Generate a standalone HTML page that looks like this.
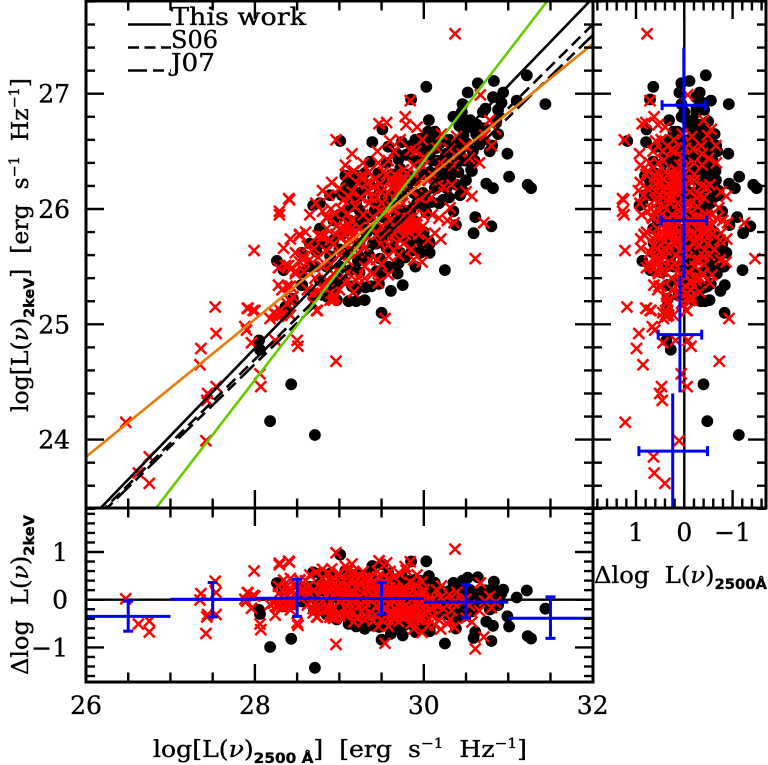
<!DOCTYPE html>
<html>
<head>
<meta charset="utf-8">
<title>L2keV vs L2500 chart</title>
<style>
html,body{margin:0;padding:0;background:#fff;width:768px;height:765px;overflow:hidden}
svg{display:block}
text{font-family:"DejaVu Serif","Liberation Serif",serif;fill:#000;stroke:#000;stroke-width:0.35}
.sub{font-family:"DejaVu Sans","Liberation Sans",sans-serif;font-weight:bold}
</style>
</head>
<body>
<svg id="chart" width="768" height="765" viewBox="0 0 768 765" xmlns="http://www.w3.org/2000/svg">
<defs>
<clipPath id="clip-main"><rect x="86" y="1" width="507" height="507"/></clipPath>
<clipPath id="clip-res"><rect x="86" y="508" width="507" height="174"/></clipPath>
<clipPath id="clip-side"><rect x="593" y="1" width="173" height="507"/></clipPath>
</defs>
<g id="marks-main" clip-path="url(#clip-main)"></g>
<g id="marks-res" clip-path="url(#clip-res)"></g>
<g id="marks-side" clip-path="url(#clip-side)"></g>
<g id="axes"></g>
<g id="tick-labels"></g>

<g>
<line x1="128" x2="171" y1="24.5" y2="24.5" stroke="#000" stroke-width="2.4"/>
<line x1="128" x2="171" y1="47.5" y2="47.5" stroke="#000" stroke-width="2.4" stroke-dasharray="11 5.5"/>
<line x1="128" x2="171" y1="70.5" y2="70.5" stroke="#000" stroke-width="2.4" stroke-dasharray="19 6 11 6"/>
<text x="171" y="25" font-size="24" textLength="135" lengthAdjust="spacingAndGlyphs">This work</text>
<text x="171" y="48" font-size="24" textLength="47" lengthAdjust="spacingAndGlyphs">S06</text>
<text x="171" y="71" font-size="24" textLength="44" lengthAdjust="spacingAndGlyphs">J07</text>
</g>

<text x="153" y="757" font-size="23" textLength="374" lengthAdjust="spacingAndGlyphs">log[L(<tspan font-style="italic">ν</tspan>)<tspan class="sub" font-size="14" dy="6">2500 Å</tspan><tspan dy="-6">]&#160;&#160;[erg&#160;&#160;s</tspan><tspan font-size="14" dy="-9">−1</tspan><tspan dy="9">&#160;&#160;Hz</tspan><tspan font-size="14" dy="-9">−1</tspan><tspan dy="9">]</tspan></text>
<text transform="translate(28,412) rotate(-90)" x="0" y="0" font-size="23" textLength="334" lengthAdjust="spacingAndGlyphs">log[L(<tspan font-style="italic">ν</tspan>)<tspan class="sub" font-size="14" dy="6">2keV</tspan><tspan dy="-6">]&#160;&#160;[erg&#160;&#160;s</tspan><tspan font-size="14" dy="-9">−1</tspan><tspan dy="9">&#160;&#160;Hz</tspan><tspan font-size="14" dy="-9">−1</tspan><tspan dy="9">]</tspan></text>
<text transform="translate(28,675) rotate(-90)" x="0" y="0" font-size="23" textLength="160" lengthAdjust="spacingAndGlyphs">Δlog&#160;&#160;L(<tspan font-style="italic">ν</tspan>)<tspan class="sub" font-size="14" dy="6">2keV</tspan></text>
<text x="594" y="583" font-size="23" textLength="173" lengthAdjust="spacingAndGlyphs">Δlog&#160;&#160;L(<tspan font-style="italic">ν</tspan>)<tspan class="sub" font-size="14" dy="6">2500Å</tspan></text>

<script>
// ---- data (log L2500, log L2keV) ----
const blackUV = [30.03,29.85,30.64,30.83,31.22,30.52,30.82,30.94,30.92,31.10,31.44,30.46,30.73,30.88,30.45,30.70,30.35,30.43,30.55,30.06,
30.63,30.55,30.86,30.88,29.51,29.39,29.01,29.74,29.58,30.81,30.66,30.99,30.56,31.01,30.74,30.82,31.23,31.27,30.46,30.43,
30.61,30.80,30.59,30.38,30.35,30.03,30.09,30.25,30.07,29.96,29.86,30.06,29.65,29.69,29.75,29.61,29.47,29.38,29.31,29.30,
29.20,29.11,29.50,28.56,28.73,28.55,29.07,29.13,28.69,28.77,29.03,29.13,29.25,29.36,29.70,29.90,28.26,28.34,28.55,28.45,
28.36,28.33,28.05,28.06,28.43,28.18,28.71,28.87,28.97,29.90,30.03,30.15,30.27,30.39,30.47,30.41,30.57,29.24,29.36,29.48,
29.44,29.60,29.74,29.88,29.99,30.15,30.31,30.23,30.07,29.95,30.15,30.29,30.43,30.03,29.79,29.68,29.56,29.46,29.30,29.36,
29.52,29.68,29.84,29.92,29.80,29.96,29.72,29.58,29.44,29.32,29.40,29.56,29.72,29.84,30.07,28.77,28.65,28.93,29.05,29.20,
28.93,29.13,29.24,29.42,29.32,29.13,29.05,29.24,28.93,28.85,28.97,29.44,29.32,29.48,28.77,29.01,28.89,28.77,29.24,29.44,
29.64,29.70,29.24,28.89,29.20,29.96,30.05,30.13,29.92,30.09,30.19,30.27,30.51,30.63,30.47,30.39,30.53,30.72,30.19,30.33,
30.39,30.27,30.13,30.23,30.01,
29.15,29.08,29.30,29.40,29.55,29.65,29.80,29.90,30.00,30.10,29.62,29.72,29.82,29.50,29.20,29.28,29.12,29.00,29.60,29.50,
29.66,29.76,29.90,29.98,29.88,30.00,30.18,30.12,30.22,30.38,30.48,30.58,30.70,30.78,30.60,30.62,30.42,30.30,30.12,29.98,
29.85,29.70,29.35,29.22,29.10,29.00,28.85,28.98,29.15,29.50,29.58,29.78,29.90,28.70,28.85,28.65,28.55,28.70,29.20,29.65,
29.75,29.50,30.00,30.30,30.50];
const blackX = [27.06,26.95,27.09,27.11,27.16,27.01,26.97,27.01,26.92,26.94,26.91,26.91,26.87,26.86,26.84,26.84,26.80,26.77,26.77,26.77,
26.73,26.71,26.76,26.65,26.69,26.58,26.59,26.58,26.54,26.55,26.56,26.48,26.34,26.28,26.22,26.18,26.21,26.18,26.16,26.12,
25.93,25.85,25.79,25.86,25.98,25.97,26.06,25.47,25.62,25.62,25.64,25.72,25.49,25.44,25.34,25.29,25.35,25.33,25.32,25.21,
25.20,25.20,25.10,25.34,25.63,25.62,26.29,26.25,26.03,26.05,26.12,26.12,26.12,26.41,26.43,26.42,25.55,25.47,25.34,25.22,
25.15,25.10,24.86,24.78,24.48,24.16,24.04,25.24,25.34,26.60,26.57,26.53,26.48,26.50,26.54,26.32,26.33,26.25,26.21,26.16,
26.03,26.06,26.12,26.14,26.14,26.18,26.27,26.31,26.32,26.40,26.42,26.41,26.42,26.48,26.47,26.48,26.40,26.31,26.31,25.93,
25.93,25.96,25.99,26.05,25.88,25.82,25.76,25.80,25.82,25.79,25.70,25.66,25.62,25.73,25.70,25.83,25.50,25.73,25.79,25.88,
25.90,26.02,25.99,25.99,25.82,25.47,25.38,25.45,25.30,25.24,25.21,25.46,25.57,25.57,25.38,25.50,25.59,25.70,25.70,25.70,
25.67,25.53,26.14,26.12,26.29,26.61,26.67,26.67,26.54,26.51,26.57,26.45,26.57,26.64,26.64,26.56,26.73,26.70,26.34,26.31,
26.21,26.18,26.18,26.08,26.11,
26.20,26.20,26.18,26.10,26.10,26.15,26.20,26.25,26.30,26.42,26.30,26.35,26.30,26.25,26.05,25.92,25.90,25.95,25.85,25.75,
25.75,25.80,25.75,25.70,25.90,26.03,26.05,26.25,26.22,26.35,26.42,26.50,26.60,26.50,26.42,26.65,26.72,26.60,26.60,26.50,
26.55,26.25,25.60,25.55,25.62,25.65,25.50,25.40,25.33,25.45,25.50,25.58,25.50,25.50,25.70,25.70,25.45,25.25,25.30,25.90,
25.98,26.00,25.80,26.10,26.25];

const redUV = [30.37,30.67,29.84,29.47,29.56,29.78,29.79,29.92,28.96,29.15,29.07,29.60,29.98,30.21,30.39,30.78,30.85,30.72,30.54,30.15,
29.84,29.28,29.17,29.46,29.58,29.76,29.88,29.99,28.91,28.87,29.05,28.72,28.65,28.95,28.85,28.53,28.75,29.01,29.13,29.19,
29.28,29.32,29.40,29.48,29.34,29.58,29.70,29.66,29.72,29.80,29.52,30.09,30.23,30.33,30.57,30.31,30.36,30.71,30.61,30.13,
30.20,30.05,29.99,29.88,29.98,29.84,29.80,29.88,29.76,29.72,29.60,29.64,29.50,29.48,29.58,29.58,29.76,29.64,29.36,29.27,
29.15,29.05,28.89,28.81,28.93,28.65,28.57,28.71,28.93,29.22,29.40,29.58,29.07,29.17,28.93,28.73,28.69,29.54,27.99,28.29,
28.29,28.41,28.53,28.42,28.34,28.48,28.57,28.36,28.44,28.28,28.42,28.32,28.45,28.48,28.38,28.30,28.22,28.18,28.28,27.92,
28.00,27.88,28.74,28.95,29.20,29.09,28.85,28.89,28.85,28.95,28.85,29.01,28.79,26.47,26.75,26.62,26.75,27.42,27.35,27.36,
27.53,27.54,27.44,27.54,27.43,27.90,27.91,27.98,27.96,28.06,28.07,28.24,28.50,28.51,28.96,28.26,28.32,28.42,28.28,28.40,
28.48,28.38,28.42,28.75,28.69,28.89,28.93,28.87,28.53,28.40,29.67,29.62,29.72,29.77,29.60,29.84,29.80,29.87,29.78,29.92,
29.83,29.10,29.16,29.12,29.18,29.02,29.08,28.98,29.45,29.35,29.50,29.62,29.55,29.40,29.25,29.15,29.00,28.80,29.10,29.30,
29.44,29.70,29.85,30.00,30.10,29.95,29.85,29.75,30.05,30.20,30.35,30.45,29.65,29.45,29.25,29.35,29.95,29.30,29.10,28.90,
28.75,28.60,
29.68,29.64,29.70,29.74,29.66,29.56,29.50,29.42,29.38,29.30,29.22,29.10,29.12,29.02,28.90,28.80,
29.82,29.86,29.90,29.78,29.94,29.74,29.68,29.62,29.54,29.44,29.38,29.30,29.24,
29.14,29.06,28.96,29.14,29.22,29.12,29.00,28.84,28.80,28.70,28.62,28.58,28.62,28.82,29.00,29.10,29.30,29.50,29.46,
29.90,30.00,30.10,30.16,30.02,29.88,29.68,29.48,29.90,29.72,30.50,30.28,30.18,30.50,30.66,30.80,30.30];
const redX = [27.52,26.99,26.94,26.74,26.75,26.80,26.73,26.71,26.60,26.48,26.38,26.59,26.60,26.65,26.63,26.77,26.69,26.64,26.44,26.53,
26.51,26.40,26.33,26.40,26.42,26.34,26.38,26.37,26.23,26.12,26.08,26.05,25.95,25.96,25.92,25.77,25.77,25.82,25.82,26.02,
25.95,26.22,26.19,26.22,26.16,26.14,26.22,26.21,26.25,26.31,26.32,26.10,26.19,26.21,26.11,26.01,25.88,25.88,25.57,25.79,
25.74,25.73,25.85,25.56,25.54,25.85,25.82,25.88,25.93,25.73,25.90,25.99,25.85,25.70,25.69,25.59,25.70,25.64,25.56,25.70,
25.83,25.79,25.73,25.76,25.69,25.56,25.59,25.40,25.44,25.41,25.44,25.43,25.36,25.28,25.23,25.12,25.27,25.05,25.64,25.98,
25.95,26.08,25.78,25.74,25.66,25.62,25.56,25.51,25.49,25.34,25.33,25.30,25.24,25.44,25.18,25.12,25.10,25.05,25.07,25.14,
25.12,24.98,25.12,25.24,25.38,25.38,25.38,25.21,25.93,25.96,25.83,25.83,25.76,24.15,23.85,23.71,23.62,23.99,24.65,24.79,
25.15,24.92,24.40,24.46,24.34,24.95,25.14,25.12,24.84,24.57,24.46,24.86,24.86,24.81,24.68,25.08,25.08,25.08,25.49,25.51,
25.46,25.33,25.20,25.28,25.18,25.27,25.21,25.37,25.54,26.09,26.24,26.18,26.20,26.27,26.25,25.88,25.90,25.84,25.86,25.86,
25.80,25.80,25.77,25.86,25.74,25.76,25.70,25.86,26.10,26.05,26.05,26.02,25.96,25.93,26.10,26.15,26.18,26.16,25.96,25.66,
25.56,25.60,25.65,25.95,25.95,26.10,26.15,26.05,26.25,26.40,26.38,26.48,26.50,26.50,26.28,26.32,26.25,25.50,25.55,25.52,
25.58,25.80,
26.28,26.20,26.16,26.24,26.30,26.30,26.15,26.26,26.10,26.28,26.22,26.30,26.10,26.00,26.00,25.98,
25.92,25.92,25.82,25.78,25.78,25.84,25.82,25.76,25.78,25.78,25.84,25.78,25.84,
25.90,25.84,25.78,25.72,25.62,25.64,25.60,25.64,25.50,25.66,25.68,25.46,25.30,25.30,25.30,25.45,25.40,25.52,25.36,
26.30,26.45,26.30,26.20,26.12,26.02,26.05,25.98,26.50,26.60,26.15,25.90,25.92,26.55,26.40,26.55,26.52];

// fit lines: slope and reference point (log L2500, log L2keV)
const fitNames = ['this-work','s06','j07','orange-fit','green-fit'];
const fitSlopes = [0.759,0.726,0.713,0.597,0.949];
const fitRefX = [26.174,26.225,26.249,26,26.83];
const fitRefY = [23.407,23.407,23.407,23.85,23.407];

// inverse fit used by the side panel: L2500 = a + b (L2keV - c)
const invSlope = 1.0235, invRefX = 27.53, invRefY = 23.99;

// binned means, residual panel
const resBinCenters = [26.5,27.5,28.5,29.5,30.5,31.5];
const resBinMeans = [-0.35,0.01,0.03,0.025,-0.05,-0.39];
const resBinTop = [-0.03,0.36,0.43,0.36,0.31,0.06];
const resBinBottom = [-0.66,-0.36,-0.35,-0.31,-0.38,-0.81];

// binned means, side panel
const sideBinCenters = [23.90,24.91,25.90,26.90];
const sideBinHalf = [0.50,0.50,0.50,0.50];
const sideBinMeans = [0.24,0.09,0.01,0.01];
const sideBinHigh = [0.94,0.54,0.48,0.46];
const sideBinLow = [-0.48,-0.36,-0.46,-0.43];

const xTickLabels = [26,28,30,32];
const yTickLabels = [24,25,26,27];
const resTickLabels = [1,0,-1];
const sideTickLabels = [1,0,-1];

// ---- axis functions ----
const sx = v => 86 + (v - 26) * 84.45;
const sy = v => 209 - (v - 26) * 115.3;
const ry = v => 599.7 - v * 47.7;
const dx = v => 684.3 - v * 48.3;
const NS = 'http://www.w3.org/2000/svg';
const gMain = document.getElementById('marks-main');
const gRes = document.getElementById('marks-res');
const gSide = document.getElementById('marks-side');
const gAxes = document.getElementById('axes');
const gLab = document.getElementById('tick-labels');

function mk(tag, attrs, parent) {
  const e = document.createElementNS(NS, tag);
  for (const k in attrs) e.setAttribute(k, attrs[k]);
  parent.appendChild(e);
  return e;
}
function dot(px, py, parent) {
  const c = mk('circle', {cx: px.toFixed(1), cy: py.toFixed(1), r: 5.9, fill: '#000'}, parent);
  
  
}
function cross(px, py, parent) {
  const s = 5.5;
  const p = mk('path', {d: `M${(px-s).toFixed(1)} ${(py-s).toFixed(1)}L${(px+s).toFixed(1)} ${(py+s).toFixed(1)}M${(px-s).toFixed(1)} ${(py+s).toFixed(1)}L${(px+s).toFixed(1)} ${(py-s).toFixed(1)}`, stroke: '#f00', 'stroke-width': 2.5, fill: 'none'}, parent);
  
  
}
const orangeAt = x => fitRefY[3] + fitSlopes[3] * (x - fitRefX[3]);
const invAt = y => invRefX + invSlope * (y - invRefY);

// zero lines under the points
const zeroRes = mk('line', {x1: 86, x2: 593, y1: ry(0), y2: ry(0), stroke: '#000', 'stroke-width': 2.4}, gRes);


const zeroSide = mk('line', {x1: dx(0), x2: dx(0), y1: 1, y2: 508, stroke: '#000', 'stroke-width': 2.4}, gSide);



// points in all panels
blackUV.forEach((x, i) => {
  const y = blackX[i];
  dot(sx(x), sy(y), gMain);
  dot(sx(x), ry(y - orangeAt(x)), gRes);
  dot(dx(invAt(y) - x), sy(y), gSide);
});
redUV.forEach((x, i) => {
  const y = redX[i];
  cross(sx(x), sy(y), gMain);
  cross(sx(x), ry(y - orangeAt(x)), gRes);
  cross(dx(invAt(y) - x), sy(y), gSide);
});

// fit lines
const fitStyles = [
  {stroke: '#000', dash: ''},
  {stroke: '#000', dash: '12 6'},
  {stroke: '#000', dash: '20 6 11 6'},
  {stroke: '#e87b0c', dash: ''},
  {stroke: '#66cc00', dash: ''}
];
fitNames.forEach((n, i) => {
  const y0 = fitRefY[i] + fitSlopes[i] * (26 - fitRefX[i]);
  const y1 = fitRefY[i] + fitSlopes[i] * (32 - fitRefX[i]);
  const l = mk('line', {x1: sx(26), y1: sy(y0), x2: sx(32), y2: sy(y1), stroke: fitStyles[i].stroke, 'stroke-width': 2.6}, gMain);
  if (fitStyles[i].dash) l.setAttribute('stroke-dasharray', fitStyles[i].dash);
  
  
});

// blue binned bars
const BLUE = '#0000ff';
function bar(x1, y1, x2, y2, parent) {
  const l = mk('line', {x1, y1, x2, y2, stroke: BLUE, 'stroke-width': 3}, parent);
  
  
}
resBinCenters.forEach((c, i) => {
  const X = sx(c);
  bar(sx(c - 0.5), ry(resBinMeans[i]), sx(c + 0.5), ry(resBinMeans[i]), gRes);
  bar(X, ry(resBinTop[i]), X, ry(resBinBottom[i]), gRes);
  bar(X - 5, ry(resBinTop[i]), X + 5, ry(resBinTop[i]), gRes);
  bar(X - 5, ry(resBinBottom[i]), X + 5, ry(resBinBottom[i]), gRes);
});
sideBinCenters.forEach((c, i) => {
  const Y = sy(c);
  const X = dx(sideBinMeans[i]);
  bar(X, sy(c + sideBinHalf[i]), X, sy(c - sideBinHalf[i]), gSide);
  bar(dx(sideBinHigh[i]), Y, dx(sideBinLow[i]), Y, gSide);
  bar(dx(sideBinHigh[i]), Y - 5, dx(sideBinHigh[i]), Y + 5, gSide);
  bar(dx(sideBinLow[i]), Y - 5, dx(sideBinLow[i]), Y + 5, gSide);
});

// axes
function tick(x1, y1, x2, y2) {
  const t = mk('line', {x1, y1, x2, y2, stroke: '#000', 'stroke-width': 2.4}, gAxes);
  
  
}
function frame(x, y, w, h) {
  const r = mk('rect', {x, y, width: w, height: h, fill: 'none', stroke: '#000', 'stroke-width': 3}, gAxes);
  
  
}
frame(86, 1, 507, 507);
frame(86, 508, 507, 174);
frame(593, 1, 173, 507);

// x ticks on main and residual panels
for (let k = 0; k <= 12; k++) {
  const v = 26 + k * 0.5;
  const X = sx(v);
  const L = k % 4 === 0 ? 18 : 9.5;
  tick(X, 1, X, 1 + L);
  tick(X, 508, X, 508 - L);
  tick(X, 508, X, 508 + L);
  tick(X, 682, X, 682 - L);
}
// y ticks on main and side panels
for (let k = 0; k <= 22; k++) {
  const v = 23.4 + k * 0.2;
  const Y = sy(v);
  const major = Math.abs(v - Math.round(v)) < 0.01;
  const L = major ? 18 : 9;
  tick(86, Y, 86 + L, Y);
  tick(593, Y, 593 - L, Y);
  tick(593, Y, 593 + L, Y);
  tick(766, Y, 766 - L, Y);
}
// residual y ticks
for (let k = -8; k <= 9; k++) {
  const v = k * 0.2;
  const Y = ry(v);
  const L = k % 5 === 0 ? 18 : 9;
  tick(86, Y, 86 + L, Y);
  tick(593, Y, 593 - L, Y);
}
// side x ticks
for (let k = -8; k <= 9; k++) {
  const v = k * 0.2;
  const X = dx(v);
  const L = k % 5 === 0 ? 18 : 9.5;
  tick(X, 1, X, 1 + L);
  tick(X, 508, X, 508 - L);
}

// tick labels
function label(txt, x, y, anchor, name) {
  const t = mk('text', {x, y, 'font-size': 25, 'text-anchor': anchor}, gLab);
  t.textContent = txt;
  
  
}
const fmt = v => v < 0 ? '\u2212' + (-v) : String(v);
xTickLabels.forEach(v => label(fmt(v), sx(v), 714, 'middle', 'x-tick-label'));
yTickLabels.forEach(v => label(fmt(v), 70, sy(v) + 9, 'end', 'y-tick-label'));
resTickLabels.forEach(v => label(fmt(v), 68, ry(v) + 9, 'end', 'residual-y-tick-label'));
sideTickLabels.forEach(v => label(fmt(v), dx(v), 541, 'middle', 'side-x-tick-label'));
</script>
</svg>
</body>
</html>
